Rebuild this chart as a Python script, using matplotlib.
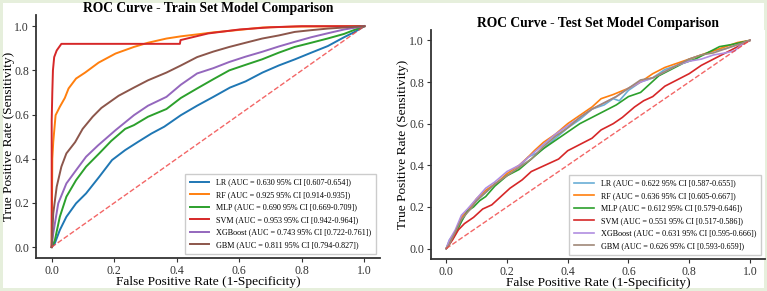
import matplotlib
matplotlib.use("Agg")
import matplotlib.pyplot as plt

plt.rcParams['font.family'] = ['Liberation Serif', 'DejaVu Serif']

# ---- train set ROC points ----
train_lr_fpr = [0, .01, .026, .047, .078, .11, .152, .193, .235, .277, .319, .36, .413, .465, .517, .57,
                .62, .674, .726, .778, .83, .883, .935, .97, 1]
train_lr_tpr = [0, .017, .077, .137, .198, .243, .318, .394, .439, .477, .514, .545, .597, .640, .680, .722,
                .750, .790, .822, .850, .880, .910, .950, .975, 1]

train_rf_fpr = [0, .002, .005, .0125, .026, .042, .054, .078, .107, .15, .204, .263, .308, .367, .413, .472,
                .517, .57, .62, .674, .78, 1]
train_rf_tpr = [0, .40, .476, .597, .635, .675, .718, .763, .790, .835, .876, .906, .925, .944, .954, .964,
                .972, .979, .986, .994, .998, 1]

train_mlp_fpr = [0, .01, .026, .047, .078, .11, .152, .19, .235, .263, .308, .367, .413, .465, .517, .568,
                 .62, .673, .726, .777, .83, .882, .935, .966, 1]
train_mlp_tpr = [0, .03, .137, .228, .303, .364, .424, .48, .535, .552, .59, .625, .675, .718, .760, .800,
                 .825, .850, .880, .906, .925, .944, .965, .982, 1]

train_svm_fpr = [0, 0, .002, .004, .008, .016, .031, .41, .412, .465, .5, .6, .7, .8, 1]
train_svm_tpr = [0, .57, .70, .80, .86, .89, .92, .92, .937, .955, .967, .985, .995, 1, 1]

train_xgb_fpr = [0, .005, .021, .047, .078, .11, .148, .204, .263, .308, .367, .413, .465, .517, .568,
                 .62, .673, .726, .777, .83, .883, .935, 1]
train_xgb_tpr = [0, .062, .198, .288, .348, .409, .46, .529, .597, .640, .680, .735, .786, .810, .838,
                 .862, .884, .908, .929, .950, .968, .985, 1]

train_gbm_fpr = [0, .005, .016, .031, .047, .075, .099, .131, .159, .214, .263, .308, .367, .413, .465,
                 .517, .568, .62, .673, .726, .777, .83, .882, 1]
train_gbm_tpr = [0, .152, .273, .364, .424, .475, .535, .590, .630, .685, .722, .755, .790, .822, .860,
                 .885, .906, .925, .944, .958, .974, .982, .989, 1]

# ---- test set ROC points ----
test_lr_fpr = [0, .01, .02, .04, .06, .08, .10, .13, .16, .20, .24, .27, .30, .32, .36, .40, .44, .48,
               .52, .55, .57, .60, .64, .68, .72, .76, .80, .84, .88, .92, .96, 1]
test_lr_tpr = [0, .04, .06, .10, .16, .20, .23, .27, .31, .35, .39, .44, .46, .48, .53, .58, .62, .67,
               .69, .72, .71, .76, .80, .82, .86, .88, .91, .93, .95, .96, .98, 1]

test_rf_fpr = [0, .01, .03, .05, .08, .10, .13, .17, .20, .24, .27, .29, .32, .36, .40, .44, .48, .51,
               .55, .60, .64, .68, .72, .76, .80, .84, .88, .92, .96, 1]
test_rf_tpr = [0, .03, .08, .15, .20, .24, .28, .32, .36, .40, .44, .47, .51, .55, .60, .64, .68, .72,
               .74, .77, .80, .84, .87, .89, .91, .93, .95, .97, .99, 1]

test_mlp_fpr = [0, .01, .03, .05, .07, .09, .11, .13, .16, .20, .24, .28, .32, .36, .40, .44, .48, .52,
                .56, .60, .64, .67, .70, .74, .78, .82, .86, .90, .94, .97, 1]
test_mlp_tpr = [0, .02, .07, .13, .18, .20, .23, .25, .30, .35, .38, .43, .48, .52, .56, .60, .63, .66,
                .69, .73, .75, .79, .83, .86, .89, .91, .94, .97, .98, .99, 1]

test_svm_fpr = [0, .02, .04, .06, .09, .12, .15, .18, .21, .25, .28, .31, .34, .37, .40, .44, .48, .51,
                .55, .58, .62, .65, .68, .72, .76, .80, .84, .88, .92, .96, 1]
test_svm_tpr = [0, .04, .09, .12, .15, .19, .21, .25, .29, .33, .37, .39, .41, .43, .47, .50, .53, .57,
                .60, .63, .68, .71, .73, .78, .81, .84, .88, .91, .94, .97, 1]

test_xgb_fpr = [0, .01, .03, .05, .07, .10, .13, .16, .20, .24, .28, .32, .36, .40, .44, .48, .52, .56,
                .60, .64, .68, .72, .76, .80, .84, .88, .92, .95, .98, 1]
test_xgb_tpr = [0, .04, .09, .16, .19, .24, .29, .32, .37, .40, .45, .50, .55, .59, .63, .67, .70, .73,
                .77, .80, .82, .85, .88, .90, .91, .93, .94, .95, .99, 1]

test_gbm_fpr = [0, .01, .03, .05, .08, .10, .13, .16, .20, .24, .28, .32, .36, .40, .44, .48, .52, .56,
                .60, .64, .68, .72, .76, .80, .84, .88, .92, .96, 1]
test_gbm_tpr = [0, .02, .08, .14, .19, .23, .27, .31, .35, .39, .43, .49, .54, .58, .63, .67, .70, .73,
                .77, .81, .82, .85, .88, .91, .93, .94, .96, .98, 1]

models = ['LR', 'RF', 'MLP', 'SVM', 'XGBoost', 'GBM']
train_auc = ['0.630 95% CI [0.607-0.654]', '0.925 95% CI [0.914-0.935]', '0.690 95% CI [0.669-0.709]',
             '0.953 95% CI [0.942-0.964]', '0.743 95% CI [0.722-0.761]', '0.811 95% CI [0.794-0.827]']
test_auc = ['0.622 95% CI [0.587-0.655]', '0.636 95% CI [0.605-0.667]', '0.612 95% CI [0.579-0.646]',
            '0.551 95% CI [0.517-0.586]', '0.631 95% CI [0.595-0.666]', '0.626 95% CI [0.593-0.659]']

train_curves = [(train_lr_fpr, train_lr_tpr), (train_rf_fpr, train_rf_tpr), (train_mlp_fpr, train_mlp_tpr),
                (train_svm_fpr, train_svm_tpr), (train_xgb_fpr, train_xgb_tpr), (train_gbm_fpr, train_gbm_tpr)]
test_curves = [(test_lr_fpr, test_lr_tpr), (test_rf_fpr, test_rf_tpr), (test_mlp_fpr, test_mlp_tpr),
               (test_svm_fpr, test_svm_tpr), (test_xgb_fpr, test_xgb_tpr), (test_gbm_fpr, test_gbm_tpr)]

train_colors = ['#1f77b4', '#ff7f0e', '#2ca02c', '#d62728', '#9467bd', '#8c564b']
test_colors = ['#6aaed6', '#ff7f0e', '#2ca02c', '#d62728', '#b08ee0', '#a08878']


def draw_panel(ax, curves, colors, aucs, title, lw, ylab_x, xlab_y):
    for name, (fpr, tpr), col, auc in zip(models, curves, colors, aucs):
        ax.plot(fpr, tpr, color=col, lw=lw, label=f"{name} (AUC = {auc})")
    ax.plot([0, 1], [0, 1], color='#f04040', ls='--', lw=1.0, alpha=0.8)
    ax.set_xlim(-0.05, 1.05)
    ax.set_ylim(-0.05, 1.05)
    ax.set_title(title, fontsize=9.8, fontweight='bold', pad=2)
    ax.set_xlabel('False Positive Rate (1-Specificity)', fontsize=9.6)
    ax.set_ylabel('True Positive Rate (Sensitivity)', fontsize=9.6)
    ax.yaxis.set_label_coords(ylab_x, 0.5)
    ax.xaxis.set_label_coords(0.5, xlab_y)
    ax.tick_params(labelsize=8.5, colors='#333333', length=3, pad=2)
    for s in ['top', 'right']:
        ax.spines[s].set_visible(False)
    for s in ['left', 'bottom']:
        ax.spines[s].set_color('#333333')
        ax.spines[s].set_linewidth(1.3)
    ax.legend(loc='lower right', fontsize=5.9, labelspacing=0.55, handlelength=2.4,
              borderpad=0.6, framealpha=1, edgecolor='#cccccc', fancybox=False)


fig = plt.figure(figsize=(7.67, 2.91), dpi=100)
fig.patch.set_facecolor('white')
fig.patch.set_edgecolor('#e6efdc')
fig.patch.set_linewidth(3)

ax1 = fig.add_axes([0.047, 0.113, 0.4485, 0.835])
ax2 = fig.add_axes([0.562, 0.110, 0.4355, 0.787])
draw_panel(ax1, train_curves, train_colors, train_auc, 'ROC Curve - Train Set Model Comparison', 1.4,
           -0.062, -0.074)
draw_panel(ax2, test_curves, test_colors, test_auc, 'ROC Curve - Test Set Model Comparison', 1.2,
           -0.066, -0.08)

fig.savefig('out.png', dpi=100, facecolor=fig.get_facecolor(), edgecolor=fig.get_edgecolor())
